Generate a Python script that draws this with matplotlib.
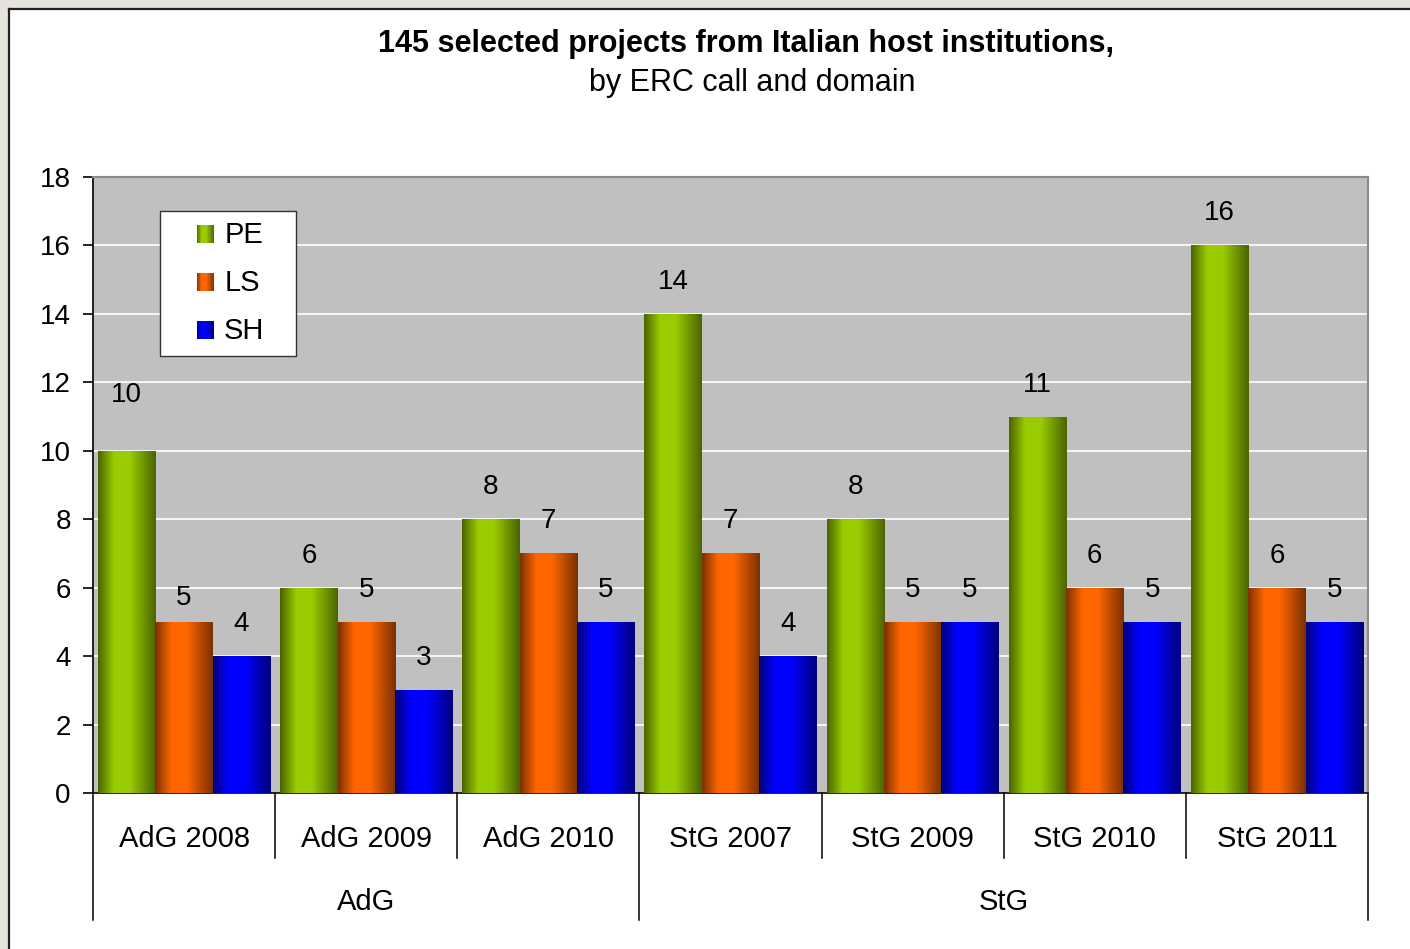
import numpy as np
import matplotlib
matplotlib.use("Agg")
import matplotlib.pyplot as plt
from matplotlib.colors import LinearSegmentedColormap
from matplotlib.patches import Rectangle
from matplotlib.legend_handler import HandlerBase
import matplotlib.transforms as mtrans

# ---------------- data ----------------
categories = ["AdG 2008", "AdG 2009", "AdG 2010", "StG 2007", "StG 2009", "StG 2010", "StG 2011"]
groups = ["AdG", "StG"]
group_sizes = [3, 4]
series_names = ["PE", "LS", "SH"]
pe_values = [10, 6, 8, 14, 8, 11, 16]
ls_values = [5, 5, 7, 7, 5, 6, 6]
sh_values = [4, 3, 5, 4, 5, 5, 5]
title_line1 = "145 selected projects from Italian host institutions,"
title_line2 = "by ERC call and domain"
yticks = [0, 2, 4, 6, 8, 10, 12, 14, 16, 18]

# ---------------- style ----------------
plt.rcParams["font.family"] = ["Liberation Sans", "DejaVu Sans"]

bright = ["#99cc00", "#ff6600", "#0000ff"]
dark = ["#4a6400", "#7a3000", "#00007a"]
cmaps = [LinearSegmentedColormap.from_list(f"g{i}", [(0, dark[i]), (0.28, bright[i]), (0.55, bright[i]), (1, dark[i])])
         for i in range(3)]

W, H = 1410, 949
fig = plt.figure(figsize=(W / 100, H / 100), dpi=100)
fig.patch.set_facecolor("#e6e2dd")
# white chart area with black top/left border
bg = Rectangle((9 / W, 0), 1, 1 - 9 / H, transform=fig.transFigure,
               facecolor="white", edgecolor="none", zorder=-10)
fig.add_artist(bg)
fig.add_artist(plt.Line2D([9 / W, 1], [1 - 9 / H, 1 - 9 / H], transform=fig.transFigure,
                          color="#222222", lw=1.6, zorder=-5))
fig.add_artist(plt.Line2D([9 / W, 9 / W], [0, 1 - 9 / H], transform=fig.transFigure,
                          color="#222222", lw=1.6, zorder=-5))

ax_l, ax_r, ax_t, ax_b = 93, 1368, 177, 793
ax = fig.add_axes([ax_l / W, 1 - ax_b / H, (ax_r - ax_l) / W, (ax_b - ax_t) / H])
ax.set_zorder(1)
ax.set_facecolor("#c0c0c0")

FS = 20
FS_CAT = 21
values = [pe_values, ls_values, sh_values]
x = np.arange(len(categories))
bw = 0.315
offsets = [-bw, 0, bw]

grad = np.linspace(0, 1, 256).reshape(1, -1)
for s in range(3):
    bars = ax.bar(x + offsets[s], values[s], width=bw, color=bright[s], zorder=2, linewidth=0)
    for b in bars:
        bx, by = b.get_x(), b.get_y()
        im = ax.imshow(grad, cmap=cmaps[s], extent=[bx, bx + b.get_width(), by, by + b.get_height()],
                       aspect="auto", zorder=3, interpolation="bilinear")
        im.set_clip_path(b)

# value labels (two were nudged in the original)
nudge = {(0, 0): 40.5, (1, 0): 17.5}
for s in range(3):
    for i, v in enumerate(values[s]):
        off = nudge.get((s, i), 23)
        ax.annotate(str(v), xy=(x[i] + offsets[s], v), xytext=(0, off), textcoords="offset points",
                    ha="center", va="center", fontsize=FS, color="black", zorder=5)

ax.set_xlim(-0.5, len(categories) - 0.5)
ax.set_ylim(0, 18)
ax.set_yticks(yticks)
ax.set_yticklabels([str(t) for t in yticks], fontsize=FS)
ax.tick_params(axis="y", length=7, width=1.2, pad=9, color="black")
ax.set_xticks([])
ax.yaxis.grid(True, color="white", lw=1.2, zorder=1)
ax.set_axisbelow(True)
for side in ["top", "right"]:
    ax.spines[side].set_color("#8a8a8a")
    ax.spines[side].set_linewidth(1.5)
ax.spines["left"].set_color("black")
ax.spines["bottom"].set_color("black")
ax.spines["left"].set_linewidth(1.2)
ax.spines["bottom"].set_linewidth(1.2)

# category axis with multi-level labels
trans = mtrans.blended_transform_factory(ax.transData, ax.transAxes)
ph = ax_b - ax_t
y_inner = -(858 - ax_b) / ph
y_outer = -(920 - ax_b) / ph
y_cat = -(839 - ax_b) / ph
y_grp = -(902 - ax_b) / ph
bounds = [0]
for g in group_sizes:
    bounds.append(bounds[-1] + g)
for k in range(len(categories) + 1):
    xv = k - 0.5
    yb = y_outer if k in bounds else y_inner
    ax.plot([xv, xv], [0, yb], transform=trans, color="black", lw=1.1, clip_on=False)
for i, c in enumerate(categories):
    ax.text(x[i], y_cat, c, transform=trans, ha="center", va="center", fontsize=FS_CAT)
for gi, g in enumerate(groups):
    center = (bounds[gi] + bounds[gi + 1] - 1) / 2
    ax.text(center, y_grp, g, transform=trans, ha="center", va="center", fontsize=FS_CAT)

# titles
fig.text(746 / W, 1 - 44 / H, title_line1, ha="center", va="center", fontsize=22, fontweight="bold")
fig.text(752 / W, 1 - 83 / H, title_line2, ha="center", va="center", fontsize=22)


# legend with gradient swatches
class GradHandler(HandlerBase):
    def __init__(self, idx):
        super().__init__()
        self.idx = idx

    def create_artists(self, legend, orig_handle, xdescent, ydescent, width, height, fontsize, trans):
        n = 12
        size = height * 0.95
        x0 = width - size
        y0 = (height - size) / 2
        arts = []
        for j in range(n):
            col = cmaps[self.idx]((j + 0.5) / n)
            r = Rectangle((x0 + j * size / n, y0), size / n + 0.05, size, facecolor=col, edgecolor="none",
                          transform=trans)
            arts.append(r)
        return arts


pw = ax_r - ax_l
handles = [Rectangle((0, 0), 1, 1, color=bright[i]) for i in range(3)]
leg = ax.legend(handles, series_names, loc="upper left",
                bbox_to_anchor=((160 - ax_l) / pw, (ax_b - 211) / ph, (296 - 160) / pw, 0.0),
                mode="expand",
                borderaxespad=0, fontsize=21, frameon=True, fancybox=False, framealpha=1,
                edgecolor="#333333", handlelength=1.5, handleheight=0.6, handletextpad=0.34,
                labelspacing=0.685, borderpad=0.36,
                handler_map={handles[i]: GradHandler(i) for i in range(3)})
leg.get_frame().set_linewidth(1.0)
leg.set_zorder(10)

fig.savefig("out.png", dpi=100, facecolor=fig.get_facecolor())
